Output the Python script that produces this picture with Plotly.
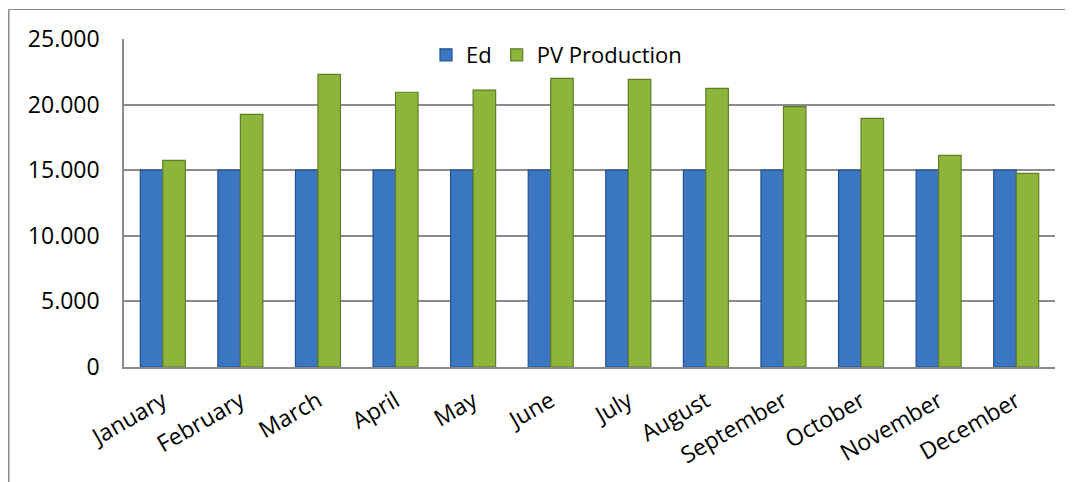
import plotly.graph_objects as go

months = ["January", "February", "March", "April", "May", "June", "July",
          "August", "September", "October", "November", "December"]
ed = [15000] * 12
pv = [15750, 19260, 22310, 20940, 21110, 22000, 21930, 21240, 19840, 18950, 16130, 14760]

OFF = 8  # page body margin
W, H = 1073 - OFF, 482 - OFF
L, R, T, B = 124 - OFF, 1055 - OFF, 39 - OFF, 367 - OFF

fig = go.Figure()
fig.add_trace(go.Bar(x=months, y=ed, name="Ed",
                     marker=dict(color="#3b76c2", line=dict(color="#24508f", width=1.2))))
fig.add_trace(go.Bar(x=months, y=pv, name="PV Production",
                     marker=dict(color="#8db53c", line=dict(color="#5e7d24", width=1.2))))

def px_x(p):
    return (p - OFF - L) / (R - L)

def px_y(p):
    return (B - (p - OFF)) / (B - T)

fig.update_layout(
    width=W, height=H,
    margin=dict(l=L, r=W - R, t=T, b=H - B, pad=0),
    paper_bgcolor="white", plot_bgcolor="white",
    font=dict(family="Open Sans", color="black", size=23),
    separators=",.",
    barmode="group", bargap=0.42, bargroupgap=0.0,
    showlegend=True,
    legend=dict(orientation="h", x=px_x(426), xanchor="left", y=px_y(34), yanchor="top",
                font=dict(size=22), bgcolor="rgba(0,0,0,0)", itemwidth=30,
                traceorder="normal"),
    xaxis=dict(tickangle=-30, showgrid=False, showline=True, linecolor="#8a8a8a",
               linewidth=1.5, ticks="", tickfont=dict(size=23), ticklabelstandoff=10),
    yaxis=dict(range=[0, 25000], dtick=5000, tickformat=",d", showgrid=True,
               gridcolor="#8a8a8a", gridwidth=1.5, showline=True, linecolor="#8a8a8a",
               linewidth=1.5, ticks="", zeroline=False, tickfont=dict(size=23),
               ticklabelstandoff=18),
    shapes=[
        dict(type="line", xref="paper", yref="paper", x0=px_x(8.8), x1=px_x(1090),
             y0=px_y(9.5), y1=px_y(9.5), line=dict(color="#8a8a8a", width=1.2)),
        dict(type="line", xref="paper", yref="paper", x0=px_x(8.8), x1=px_x(8.8),
             y0=px_y(9.5), y1=px_y(500), line=dict(color="#8a8a8a", width=1.5)),
    ],
)

fig.write_html("out.html")
